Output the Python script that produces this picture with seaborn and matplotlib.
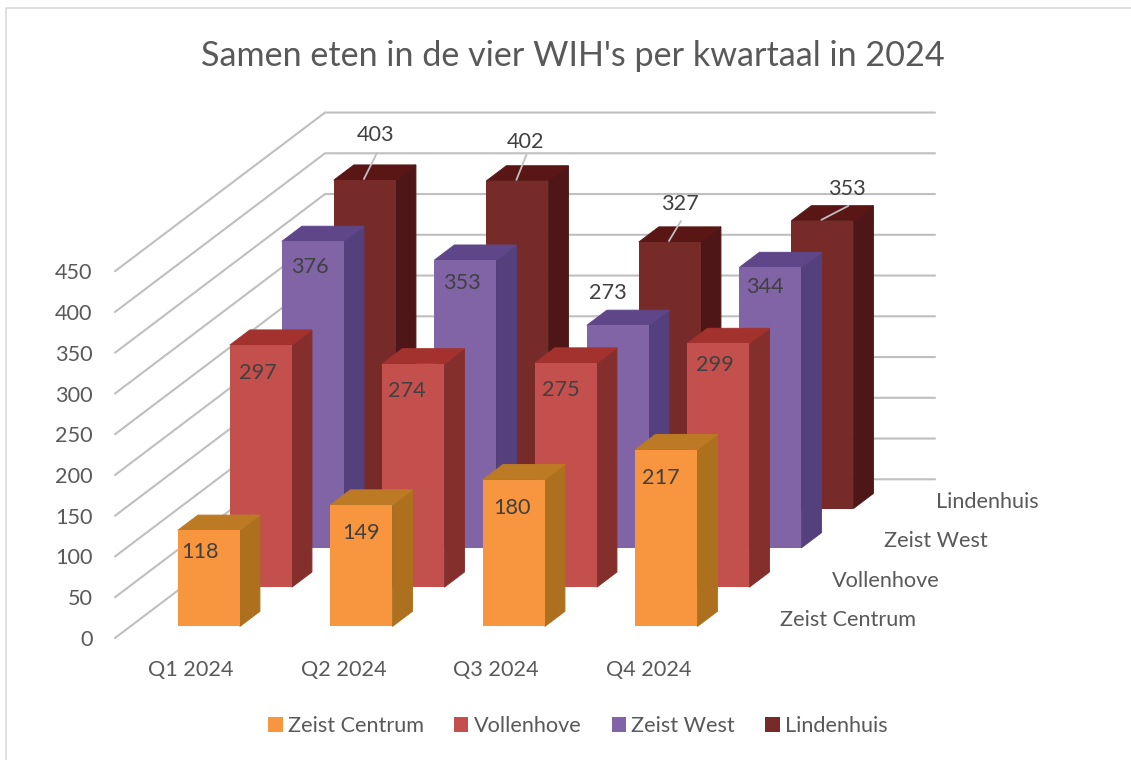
import numpy as np
import pandas as pd
import matplotlib
matplotlib.use("Agg")
import matplotlib.pyplot as plt
from matplotlib.lines import Line2D
from matplotlib.patches import Patch
import seaborn as sns

# ---- data ----
title = "Samen eten in de vier WIH's per kwartaal in 2024"
quarters = ["Q1 2024", "Q2 2024", "Q3 2024", "Q4 2024"]
series_names = ["Zeist Centrum", "Vollenhove", "Zeist West", "Lindenhuis"]
zeist_centrum = [118, 149, 180, 217]
vollenhove = [297, 274, 275, 299]
zeist_west = [376, 353, 273, 344]
lindenhuis = [403, 402, 327, 353]
value_ticks = list(range(0, 451, 50))

# ---- styles ----
front_colors = ["#F8953F", "#C4504D", "#8064A6", "#772B29"]
side_colors = ["#AD701F", "#852F2D", "#54407C", "#4E1616"]
top_colors = ["#BC7A25", "#A3322F", "#5F4689", "#5A1515"]
GRID = "#BFBFBF"
TXT = "#595959"
LBL = "#404040"
FS = 15.6

# ---- layout (pixels) ----
W, H = 1131, 760
PX_X, PX_V = 152.5, 0.815        # pixels per category / per value unit
PX_DX, PX_DY = 52.0, 39.3        # oblique shift per series row
L, B, AW, AH = 115, 638, 821, 525
DX, DY = PX_DX / PX_X, PX_DY / PX_V
DEPTH = 210 / PX_DX
BAR_W = 62 / PX_X
BAR_D = 0.385
FRONT_D = 0.32
NUDGE_X = 1 / PX_X
NUDGE_V = -1 / PX_V

label_off = [
    [(-8, -23), (1, -29), (-1, -29), (-5, -29)],
    [(-2, -29), (-6, -28), (-4, -28), (-2, -23)],
    [(-2, -27), (-2, -24), (-9, 31), (-4, -21)],
    [(12, 44), (9, 38), (11, 37), (26, 31)],
]
leader_off = [(13, 26), (10, 25), (12, 20), (27, 14)]
px = 72 / 100

sns.set_theme(style="white")
plt.rcParams["font.family"] = ["Lato", "DejaVu Sans"]
fig = plt.figure(figsize=(W / 100, H / 100), dpi=100)
ax = fig.add_axes([L / W, (H - B) / H, AW / W, AH / H])

all_vals = [zeist_centrum, vollenhove, zeist_west, lindenhuis]
centers = np.arange(len(quarters)) + 0.5

for v in value_ticks:
    bv = v + DEPTH * DY
    ax.plot([0, DEPTH * DX, DEPTH * DX + len(quarters)], [v, bv, bv],
            color=GRID, lw=1.5, zorder=1, solid_joinstyle="miter", clip_on=False)

for s in reversed(range(len(series_names))):
    d = s + FRONT_D
    vals = np.array(all_vals[s], float)
    base = d * DY + NUDGE_V
    xc = centers + d * DX + NUDGE_X
    z = 10 + 3 * (len(series_names) - s)
    df = pd.DataFrame({"x": xc, "v": vals})
    bx, by = BAR_D * DX, BAR_D * DY
    for xm, v in zip(xc, vals):
        xl, xr = xm - BAR_W / 2, xm + BAR_W / 2
        t = base + v
        ax.fill([xr, xr, xr + bx, xr + bx], [base, t, t + by, base + by],
                facecolor=side_colors[s], edgecolor=side_colors[s], lw=0.7, zorder=z)
        ax.fill([xl, xr, xr + bx, xl + bx], [t, t, t + by, t + by],
                facecolor=top_colors[s], edgecolor=top_colors[s], lw=0.7, zorder=z)
    sns.barplot(data=df, x="x", y="v", native_scale=True, width=BAR_W, bottom=base,
                color=front_colors[s], saturation=1, errorbar=None, linewidth=0,
                zorder=z + 1, ax=ax)

for s in range(len(series_names)):
    d = s + FRONT_D
    for i, v in enumerate(all_vals[s]):
        xy = (centers[i] + d * DX, d * DY + v)
        ox, oy = label_off[s][i]
        ax.annotate(str(v), xy=xy, xytext=(ox * px, oy * px), textcoords="offset points",
                    ha="center", va="center", fontsize=FS, color=LBL, zorder=40)
        if s == 3:
            lx, ly = leader_off[i]
            ax.annotate("", xy=xy, xytext=(lx * px, ly * px), textcoords="offset points", zorder=40,
                        arrowprops=dict(arrowstyle="-", color=GRID, lw=1.3, shrinkA=0, shrinkB=0))

ax.set_xlim(0, AW / PX_X)
ax.set_ylim(0, AH / PX_V)
ax.set_xticks(centers, quarters)
ax.set_yticks(value_ticks)
ax.set_xlabel("")
ax.set_ylabel("")
ax.tick_params(axis="y", length=0, pad=16, labelsize=FS, labelcolor=TXT)
ax.tick_params(axis="x", length=0, pad=16, labelsize=FS, labelcolor=TXT)
sns.despine(ax=ax, left=True, bottom=True)
ax.patch.set_alpha(0)

for s, name in enumerate(series_names):
    ax.annotate(name, xy=(len(quarters) + (s + 0.5) * DX, (s + 0.5) * DY),
                xytext=(29 * px, -1.5 * px), textcoords="offset points",
                ha="left", va="center", fontsize=FS, color=TXT, annotation_clip=False)

fig.text(572.5 / W, 1 - 55.5 / H, title, ha="center", va="center", fontsize=24.6, color=TXT)

handles = [Patch(facecolor=c, edgecolor="none") for c in front_colors]
fig.legend(handles, series_names, loc="center", bbox_to_anchor=(578 / W, 1 - 726 / H), ncol=4,
           frameon=False, fontsize=FS, labelcolor=TXT, handlelength=0.65, handleheight=0.65,
           handletextpad=0.25, columnspacing=1.4)

fig.add_artist(Line2D([5.5 / W, 5.5 / W, 1], [0, 1 - 8 / H, 1 - 8 / H],
                      color="#D9D9D9", lw=1.2, transform=fig.transFigure))

fig.savefig("out.png", dpi=100)
